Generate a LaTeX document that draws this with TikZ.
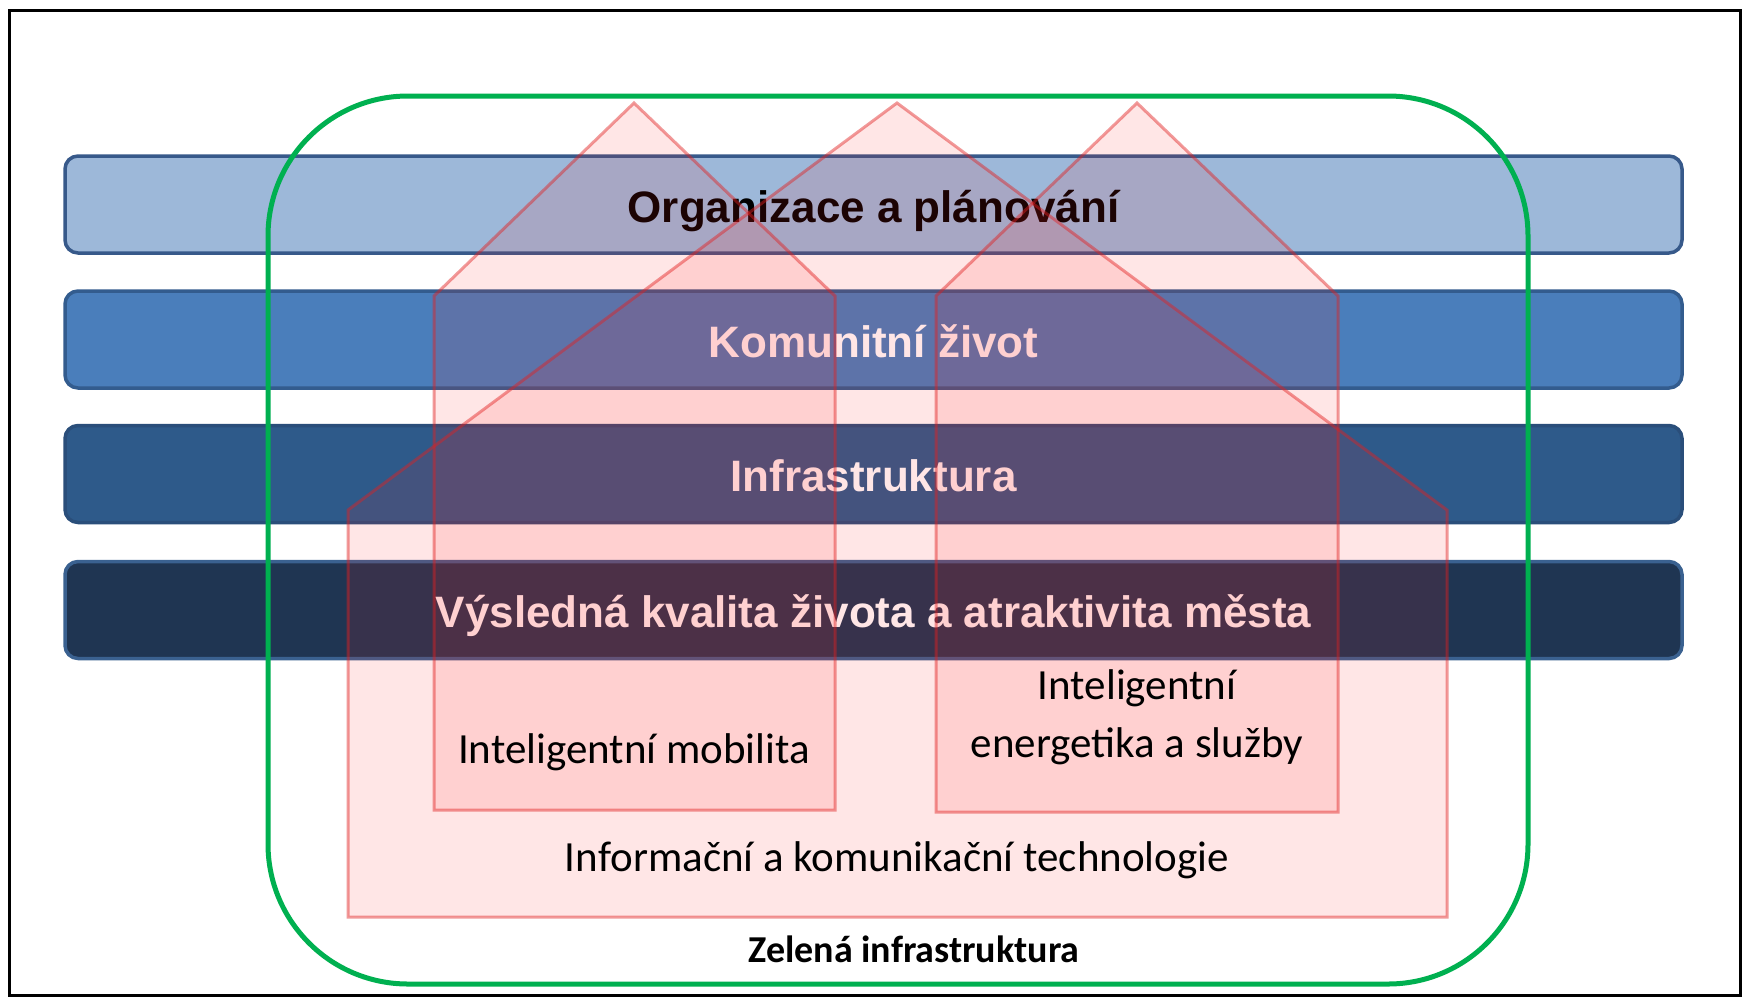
\documentclass[tikz,border=0pt]{standalone}
\usepackage{fontspec}
\setmainfont{Carlito}
\newfontfamily\bandfont{Liberation Sans}
\definecolor{bandAfill}{HTML}{9DB8D9}
\definecolor{bandAline}{HTML}{37598A}
\definecolor{bandBfill}{HTML}{4A7EBB}
\definecolor{bandBline}{HTML}{335C8E}
\definecolor{bandCfill}{HTML}{2E5A8A}
\definecolor{bandCline}{HTML}{2A4E7A}
\definecolor{bandDfill}{HTML}{1F3552}
\definecolor{bandDline}{HTML}{3A6190}
\definecolor{houseline}{HTML}{E02020}
\definecolor{housefill}{HTML}{FF2020}
\definecolor{greenline}{HTML}{00B050}
\begin{document}
\begin{tikzpicture}[x=1pt,y=-1pt,
  bandbox/.style={draw=#1, line width=3.5pt, rounded corners=13pt, minimum width=1617pt, minimum height=97pt, inner sep=0pt},
  bandtext/.style={anchor=base, inner sep=0pt, font=\bandfont\bfseries\fontsize{44}{50}\selectfont},
  house/.style={draw=houseline, draw opacity=0.45, fill=housefill, fill opacity=0.11, line width=3pt, line join=miter},
  housetext/.style={anchor=base, inner sep=0pt, text=black, font=\fontsize{43}{50}\selectfont},
  greenbox/.style={draw=greenline, line width=5pt, rounded corners=140pt},
]
\useasboundingbox (0,0) rectangle (1750,997);
\fill[white] (0,0) rectangle (1750,997);
\draw[line width=3pt, black] (9,10) rectangle (1740,995);

% bands
\node[bandbox=bandAline, fill=bandAfill] (b1) at (873.5,204.5) {};
\node[bandbox=bandBline, fill=bandBfill] (b2) at (873.5,339.5) {};
\node[bandbox=bandCline, fill=bandCfill] (b3) at (873.5,474) {};
\node[bandbox=bandDline, fill=bandDfill] (b4) at (873.5,610) {};
\node[bandtext, text=black] (t1) at (873.5,222) {Organizace a plánování};
\node[bandtext, text=white] (t2) at (873.5,357) {Komunitní život};
\node[bandtext, text=white] (t3) at (873.5,491) {Infrastruktura};
\node[bandtext, text=white] (t4) at (873.5,627) {Výsledná kvalita života a atraktivita města};

% houses
\draw[house] (348,917) -- (348,510) -- (897,103) -- (1447,510) -- (1447,917) -- cycle;
\draw[house] (434,810) -- (434,296) -- (634,103) -- (835,296) -- (835,810) -- cycle;
\draw[house] (936,812) -- (936,296) -- (1137,103) -- (1338,296) -- (1338,812) -- cycle;

\node[housetext] (mob) at (634,763) {Inteligentní mobilita};
\node[housetext] (en1) at (1137,699) {Inteligentní};
\node[housetext] (en2) at (1137,757) {energetika a služby};
\node[housetext] (ict) at (897,871) {Informační a komunikační technologie};

% green infrastructure
\draw[greenbox] (268,96) rectangle (1528,984);
\node[anchor=base, inner sep=0pt, font=\bfseries\fontsize{38}{44}\selectfont] (zel) at (914,962) {Zelená infrastruktura};
\end{tikzpicture}
\end{document}
